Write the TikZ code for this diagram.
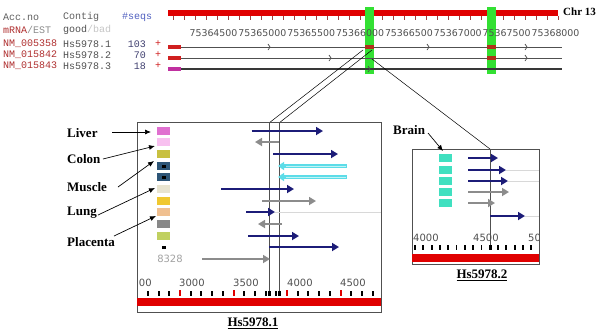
\documentclass[tikz,border=0pt]{standalone}
\usepackage{fontspec}
\setmainfont{Liberation Serif}
\newfontfamily\monof{Liberation Mono}
\newfontfamily\dejav{DejaVu Sans}
\usetikzlibrary{arrows.meta}
\definecolor{chrred}{HTML}{E00000}
\definecolor{tickred}{HTML}{A04040}
\definecolor{greenc}{HTML}{33E033}
\definecolor{exonc}{HTML}{B0301A}
\definecolor{barred}{HTML}{D02020}
\definecolor{barmag}{HTML}{C030A0}
\definecolor{trkc}{HTML}{505050}
\definecolor{navyc}{HTML}{1C1C78}
\definecolor{grayc}{HTML}{8C8C8C}
\definecolor{lightc}{HTML}{D8D8D8}
\definecolor{cyanc}{HTML}{5CDCE8}
\definecolor{cyanl}{HTML}{C0F4F6}
\definecolor{boxc}{HTML}{505050}
\definecolor{rulgray}{HTML}{505050}
\definecolor{accred}{HTML}{B03030}
\definecolor{seqblue}{HTML}{5060C0}
\definecolor{numc}{HTML}{404070}
\definecolor{hdrc}{HTML}{606060}
\definecolor{sw1}{HTML}{E070D0}
\definecolor{sw2}{HTML}{F8C0F0}
\definecolor{sw3}{HTML}{C8C040}
\definecolor{sw4}{HTML}{2D5577}
\definecolor{sw6}{HTML}{E8E4D0}
\definecolor{sw7}{HTML}{F0C830}
\definecolor{sw8}{HTML}{F0C090}
\definecolor{sw9}{HTML}{888888}
\definecolor{sw10}{HTML}{C0D060}
\definecolor{turq}{HTML}{40E0C0}
\begin{document}
\begin{tikzpicture}[x=1pt,y=-1pt,
  hdr/.style={font=\monof\fontsize{10}{10}\selectfont, inner sep=0pt, anchor=west},
  rul/.style={font=\dejav\fontsize{9.4}{10}\selectfont, text=rulgray, inner sep=0pt},
  boxrul/.style={font=\dejav\fontsize{10}{11}\selectfont, text=rulgray, inner sep=0pt, anchor=west},
  tissue/.style={font=\bfseries\fontsize{13}{14}\selectfont, inner sep=0pt, anchor=west},
  swatch/.style={minimum width=13pt, minimum height=7.5pt, inner sep=0pt, draw=none},
  navyarr/.style={draw=navyc, line width=1.7pt, -{Triangle[length=7pt,width=8pt]}},
  grayarr/.style={draw=grayc, line width=1.7pt, -{Triangle[length=7pt,width=8pt]}},
  cont/.style={draw=lightc, line width=1pt},
  lab/.style={black, line width=0.7pt, -{Latex[length=6pt,width=5pt]}},
  zoomline/.style={black, line width=0.5pt},
  panel/.style={draw=boxc, line width=0.8pt},
  trk/.style={draw=trkc, line width=0.9pt},
  chev/.style={draw=trkc, line width=0.7pt},
  vline/.style={draw=trkc, line width=0.9pt},
  capt/.style={font=\bfseries\fontsize{13}{14}\selectfont, inner sep=0pt}]
\useasboundingbox (0,0) rectangle (600,333);
\fill[white] (0,0) rectangle (600,333);

% ---------- header ----------
\node[hdr, text=hdrc] (acc) at (3,17) {Acc.no};
\node[hdr, text=hdrc] (contig) at (63,17) {Contig};
\node[hdr, text=seqblue] (seqs) at (122,17) {\#seqs};
\node[hdr] (mrna) at (3,30) {\textcolor{accred}{mRNA}\textcolor{grayc}{/EST}};
\node[hdr] (good) at (63,30) {\textcolor{trkc}{good}\textcolor{lightc!80!gray}{/bad}};
\foreach \acc/\hs/\n/\y in {NM\_005358/Hs5978.1/103/44, NM\_015842/Hs5978.2/70/55, NM\_015843/Hs5978.3/18/66}{
  \node[hdr, text=accred] (acc\n) at (3,\y) {\acc};
  \node[hdr, text=trkc] (hs\n) at (63,\y) {\hs};
  \node[hdr, text=numc, anchor=east] (num\n) at (146,\y) {\n};
  \node[hdr, text=barred] (plus\n) at (155,\y) {+};
}

% ---------- chromosome bar ----------
\fill[chrred] (168,10) rectangle (558,16);
\foreach \k in {0,...,35}{ \draw[tickred, line width=0.8pt] (558-11*\k,16) -- (558-11*\k,20); }
\fill[greenc] (365,7) rectangle (374,74);
\fill[greenc] (487,7) rectangle (496,74);
\node[font=\bfseries\fontsize{11}{12}\selectfont, anchor=west, inner sep=0pt] (chr) at (563,12) {Chr 13};
\foreach \lab [count=\i from 0] in {75364500,75365000,75365500,75366000,75366500,75367000,75367500,75368000}{
  \node[rul] (r\i) at (213.5+48.86*\i,33) {\lab};
}

% ---------- tracks ----------
\draw[trk] (181,47) -- (562,47);
\draw[trk] (181,58) -- (562,58);
\draw[draw=trkc!70!black, line width=1.4pt] (181,69) -- (562,69);
\fill[barred] (168,45) rectangle (181,49);
\fill[barred] (168,56) rectangle (181,60);
\fill[barmag] (168,67) rectangle (181,71);
\fill[exonc] (365,45) rectangle (374,49);
\fill[exonc] (487,45) rectangle (496,49);
\fill[exonc] (487,56) rectangle (496,60);
\foreach \x/\y in {270/47,429/47,527/47,331/58,527/58,370/69}{
  \draw[chev] (\x-2,\y-3) -- (\x,\y) -- (\x-2,\y+3);
}

% ---------- zoom lines ----------
\coordinate (z1a) at (363,50); \coordinate (z1b) at (269,123);
\coordinate (z2a) at (372,50); \coordinate (z2b) at (279,123);
\coordinate (z3a) at (372,59); \coordinate (z3b) at (490,149);
\draw[zoomline] (z1a) -- (z1b);
\draw[zoomline] (z2a) -- (z2b);
\draw[zoomline] (z3a) -- (z3b);

% ---------- big panel ----------
\draw[panel] (137,122) rectangle (381,312);
\fill[chrred] (137.4,298) rectangle (380.6,306);
\foreach \k in {-3,...,18}{
  \pgfmathtruncatemacro{\m}{mod(\k+10,5)}
  \ifnum\m=0 \fill[chrred] (180+10.7*\k-1,290) rectangle (180+10.7*\k+1,296);
  \else \fill[black] (180+10.7*\k-1,291) rectangle (180+10.7*\k+1,296); \fi
}
\begin{scope}
  \clip (137,122) rectangle (381,312);
  \node[boxrul] (b2500) at (126,283) {2500};
\end{scope}
\node[boxrul] (b3000) at (179,283) {3000};
\node[boxrul] (b3500) at (233,283) {3500};
\node[boxrul] (b4000) at (287,283) {4000};
\node[boxrul] (b4500) at (340,283) {4500};
\draw[vline] (269,123) -- (269,296);
\draw[vline] (279,123) -- (279,296);
\fill[black] (267.5,291) rectangle (270.5,296);
\fill[black] (277.5,291) rectangle (280.5,296);

% swatches
\foreach \c/\y [count=\i] in {sw1/131,sw2/142,sw3/154,sw4/166,sw4/177,sw6/189,sw7/201,sw8/212,sw9/224,sw10/236}{
  \node[swatch, fill=\c] (s\i) at (163.5,\y) {};
}
\fill[black] (161.5,164.5) rectangle (165.5,167.5);
\fill[black] (161.5,175.5) rectangle (165.5,178.5);
\fill[black] (161.5,245.5) rectangle (165.5,248.5);
\node[font=\dejav\fontsize{10}{11}\selectfont, text=grayc!80!white, inner sep=0pt] (n8328) at (170,259) {8328};

% data arrows big panel
\draw[navyarr] (251.7,131) -- (323,131);
\draw[grayarr] (279,142) -- (255,142);
\draw[navyarr] (273,154) -- (338,154);
\foreach \y in {166,177}{
  \draw[draw=cyanc, line width=3.6pt, -{Triangle[length=6pt,width=8pt]}] (347,\y) -- (278,\y);
  \draw[draw=cyanl, line width=1pt] (346,\y) -- (286,\y);
}
\draw[navyarr] (221,189) -- (294,189);
\draw[grayarr] (262,201) -- (316,201);
\draw[cont] (275,212) -- (381,212);
\draw[navyarr] (246,212) -- (275,212);
\draw[grayarr] (282,224) -- (258,224);
\draw[navyarr] (248,236) -- (299,236);
\draw[navyarr] (269,247) -- (339,247);
\draw[grayarr] (202,259) -- (270,259);

% tissue labels
\node[tissue] (liver) at (67,133) {Liver};
\node[tissue] (colon) at (67,159) {Colon};
\node[tissue] (muscle) at (67,187) {Muscle};
\node[tissue] (lung) at (67,213) {Lung};
\node[tissue] (placenta) at (67,242) {Placenta};
\coordinate (aLiver) at (112,132);    \coordinate (tLiver) at (151,132);
\coordinate (aColon) at (103,159);    \coordinate (tColon) at (155,146);
\coordinate (aMuscle) at (118,187);   \coordinate (tMuscle) at (154,161);
\coordinate (aLung) at (98,215);      \coordinate (tLung) at (155,188);
\coordinate (aPlac) at (114,236);     \coordinate (tPlac) at (156,216);
\draw[lab] (aLiver) -- (tLiver);
\draw[lab] (aColon) -- (tColon);
\draw[lab] (aMuscle) -- (tMuscle);
\draw[lab] (aLung) -- (tLung);
\draw[lab] (aPlac) -- (tPlac);

\node[capt] (cap1) at (253,323) {\underline{Hs5978.1}};

% ---------- small panel ----------
\draw[panel] (412,149) rectangle (539,264);
\fill[chrred] (412.4,254) rectangle (538.6,262);
\foreach \k in {0,...,14}{ \fill[black] (415+8.3*\k-0.9,245) rectangle (415+8.3*\k+0.9,250); }
\begin{scope}
  \clip (412,149) rectangle (539,264);
  \node[boxrul] (c4000) at (413,238) {4000};
  \node[boxrul] (c4500) at (473,238) {4500};
  \node[boxrul] (c5000) at (528,238) {5000};
\end{scope}
\draw[vline] (490,149) -- (490,250);
\fill[black] (488.5,245) rectangle (491.5,250);
\foreach \y [count=\i] in {158,170,181,192,203}{
  \node[swatch, fill=turq] (t\i) at (445.5,\y) {};
}
\draw[cont] (506,170) -- (539,170);
\draw[cont] (508,181) -- (539,181);
\draw[cont] (525,216) -- (539,216);
\draw[navyarr] (468,158) -- (498,158);
\draw[navyarr] (468,170) -- (506,170);
\draw[navyarr] (468,181) -- (508,181);
\draw[grayarr] (468,192) -- (509,192);
\draw[grayarr] (468,203) -- (495,203);
\draw[navyarr] (490,216) -- (525,216);

\node[tissue] (brain) at (393,130) {Brain};
\coordinate (aBrain) at (428,133); \coordinate (tBrain) at (443,151);
\draw[lab] (aBrain) -- (tBrain);
\node[capt] (cap2) at (482,275) {\underline{Hs5978.2}};
\end{tikzpicture}
\end{document}
